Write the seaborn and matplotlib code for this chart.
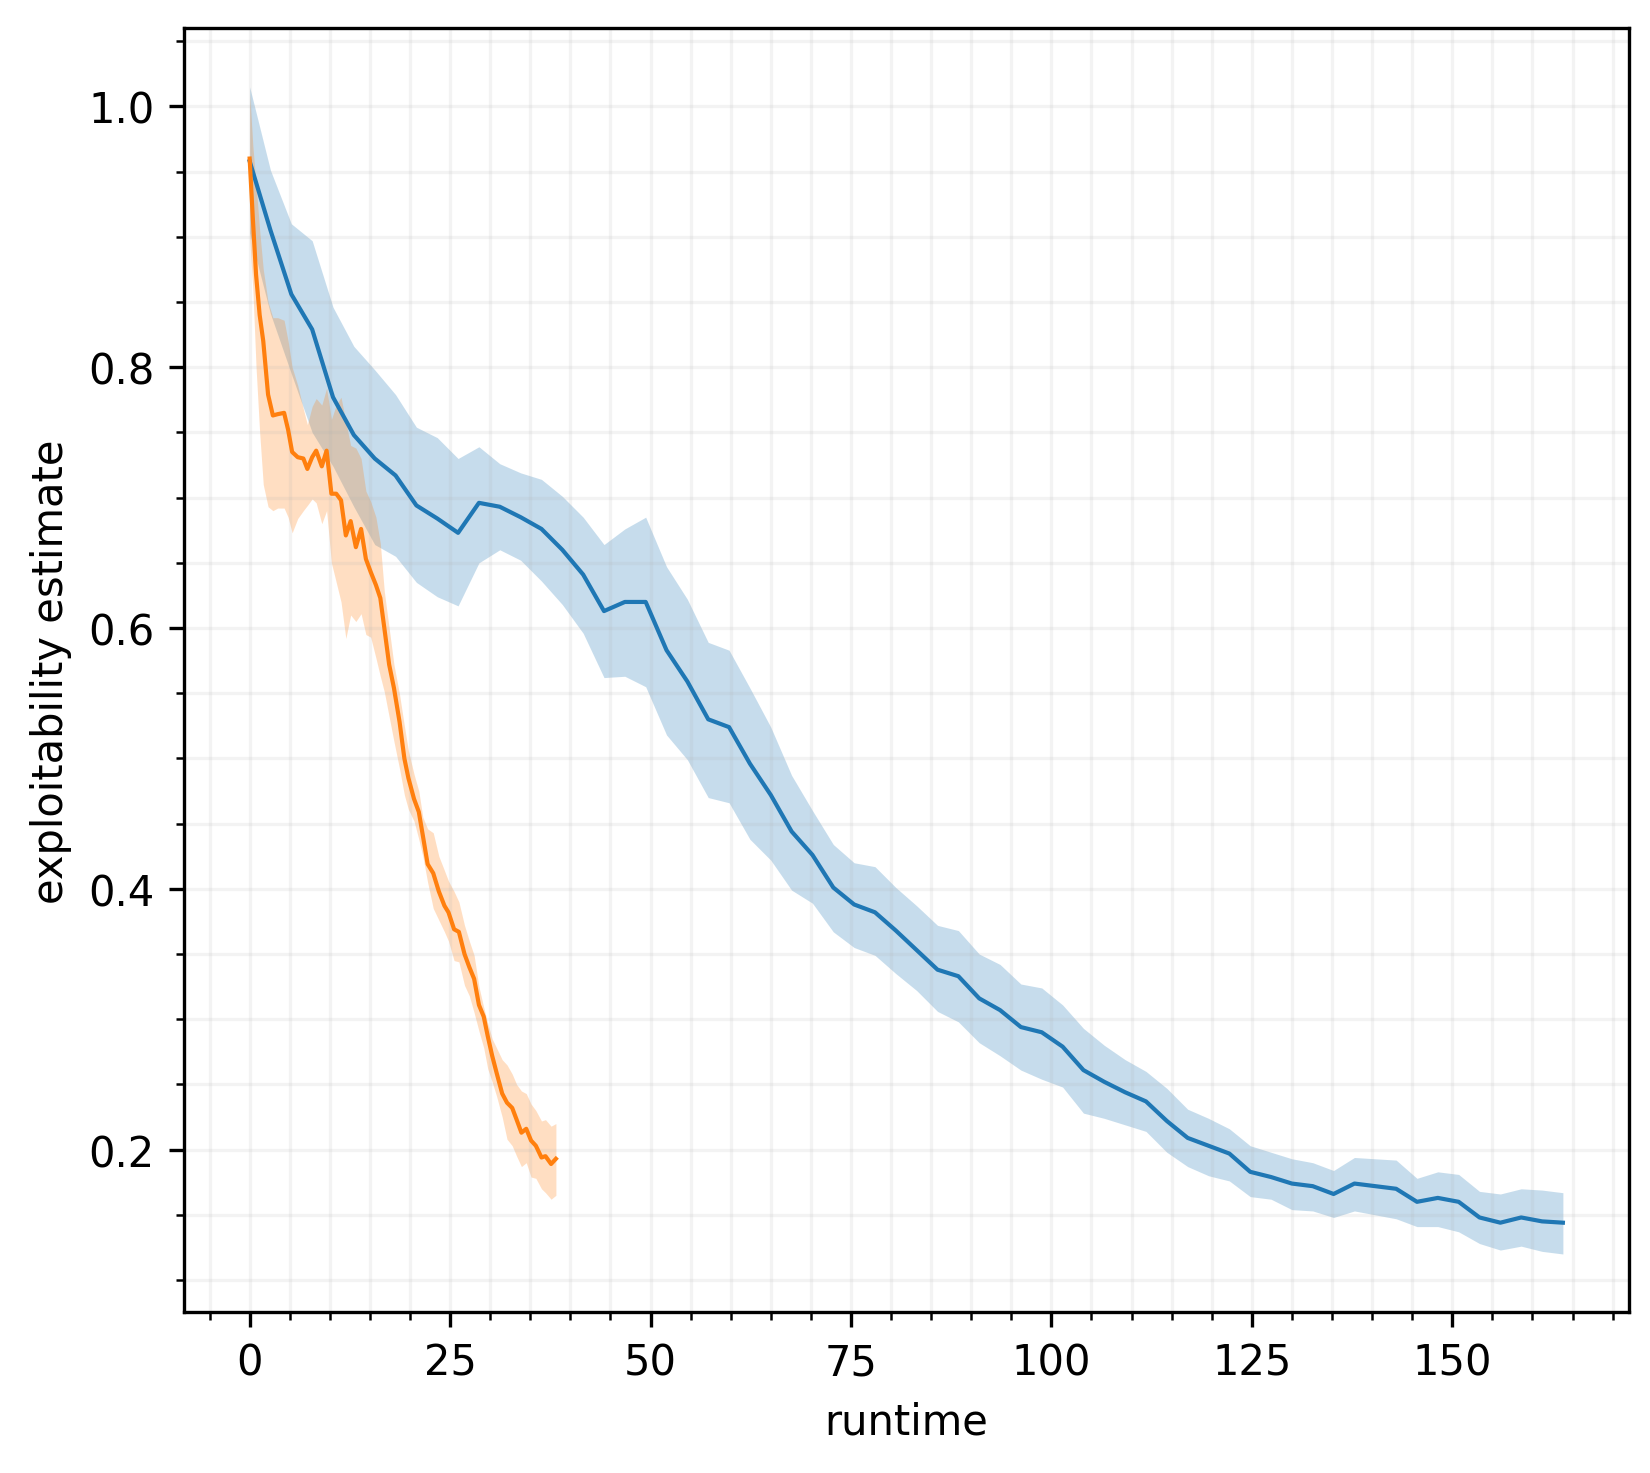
import numpy as np
import pandas as pd
import matplotlib
matplotlib.use("Agg")
import matplotlib.pyplot as plt
import seaborn as sns

# run 1 (blue) : runtime, mean exploitability, band
runtime_1 = [0.0, 2.6, 5.2, 7.8, 10.4, 13.0, 15.6, 18.2, 20.8, 23.4,
             26.0, 28.6, 31.2, 33.8, 36.4, 39.0, 41.6, 44.2, 46.8, 49.4,
             52.0, 54.6, 57.2, 59.8, 62.4, 65.0, 67.6, 70.2, 72.8, 75.4,
             78.0, 80.6, 83.2, 85.8, 88.4, 91.0, 93.6, 96.2, 98.8, 101.4,
             104.0, 106.6, 109.2, 111.8, 114.4, 117.0, 119.6, 122.2, 124.8, 127.4,
             130.0, 132.6, 135.2, 137.8, 140.4, 143.0, 145.6, 148.2, 150.8, 153.4,
             156.0, 158.6, 161.2, 163.8]
mean_1 = [0.958, 0.905, 0.856, 0.829, 0.777, 0.748, 0.730, 0.717, 0.694, 0.684,
          0.673, 0.696, 0.693, 0.685, 0.676, 0.660, 0.641, 0.613, 0.620, 0.620,
          0.583, 0.559, 0.530, 0.524, 0.496, 0.472, 0.444, 0.426, 0.401, 0.388,
          0.382, 0.368, 0.353, 0.338, 0.333, 0.316, 0.307, 0.294, 0.290, 0.279,
          0.261, 0.252, 0.244, 0.237, 0.222, 0.209, 0.203, 0.197, 0.183, 0.179,
          0.174, 0.172, 0.166, 0.174, 0.172, 0.170, 0.160, 0.163, 0.160, 0.148,
          0.144, 0.148, 0.145, 0.144]
upper_1 = [1.015, 0.951, 0.910, 0.897, 0.846, 0.816, 0.798, 0.779, 0.754, 0.746,
           0.730, 0.739, 0.726, 0.719, 0.714, 0.701, 0.685, 0.664, 0.676, 0.685,
           0.647, 0.622, 0.589, 0.583, 0.554, 0.524, 0.487, 0.460, 0.434, 0.420,
           0.417, 0.401, 0.387, 0.372, 0.368, 0.350, 0.342, 0.327, 0.324, 0.311,
           0.293, 0.280, 0.269, 0.260, 0.247, 0.231, 0.224, 0.216, 0.203, 0.198,
           0.193, 0.190, 0.184, 0.194, 0.193, 0.192, 0.178, 0.183, 0.181, 0.168,
           0.166, 0.170, 0.169, 0.167]
lower_1 = [0.903, 0.841, 0.795, 0.750, 0.724, 0.693, 0.664, 0.655, 0.635, 0.624,
           0.617, 0.650, 0.660, 0.652, 0.636, 0.618, 0.596, 0.562, 0.563, 0.555,
           0.518, 0.499, 0.470, 0.466, 0.438, 0.422, 0.399, 0.389, 0.367, 0.355,
           0.349, 0.335, 0.322, 0.306, 0.298, 0.282, 0.272, 0.261, 0.254, 0.248,
           0.228, 0.224, 0.219, 0.214, 0.198, 0.187, 0.180, 0.176, 0.164, 0.162,
           0.154, 0.153, 0.148, 0.153, 0.150, 0.147, 0.141, 0.141, 0.137, 0.128,
           0.123, 0.126, 0.122, 0.120]

# run 2 (orange)
runtime_2 = [0.0, 0.4, 0.8, 1.25, 1.7, 2.3, 2.9, 3.5, 4.3, 4.8,
             5.3, 6.0, 6.7, 7.2, 7.8, 8.3, 9.0, 9.6, 10.2, 10.8,
             11.4, 12.0, 12.6, 13.25, 13.9, 14.5, 15.1, 15.75, 16.3, 16.8,
             17.4, 18.0, 18.7, 19.3, 19.8, 20.5, 21.1, 21.6, 22.2, 22.9,
             23.6, 24.3, 24.8, 25.5, 26.1, 26.8, 27.4, 28.0, 28.6, 29.2,
             29.7, 30.25, 30.8, 31.5, 32.1, 32.75, 33.3, 33.9, 34.5, 35.1,
             35.7, 36.4, 36.9, 37.6, 38.2]
mean_2 = [0.960, 0.914, 0.871, 0.840, 0.820, 0.779, 0.763, 0.764, 0.765, 0.752,
          0.735, 0.731, 0.730, 0.722, 0.731, 0.736, 0.724, 0.736, 0.703, 0.703,
          0.698, 0.671, 0.682, 0.662, 0.676, 0.653, 0.643, 0.633, 0.623, 0.600,
          0.572, 0.554, 0.528, 0.500, 0.485, 0.469, 0.459, 0.441, 0.419, 0.412,
          0.398, 0.387, 0.382, 0.369, 0.367, 0.350, 0.340, 0.331, 0.311, 0.302,
          0.287, 0.272, 0.259, 0.243, 0.236, 0.232, 0.223, 0.213, 0.216, 0.207,
          0.203, 0.194, 0.195, 0.189, 0.193]
upper_2 = [1.010, 0.970, 0.940, 0.905, 0.875, 0.850, 0.838, 0.838, 0.836, 0.820,
           0.800, 0.786, 0.768, 0.756, 0.770, 0.776, 0.771, 0.784, 0.760, 0.771,
           0.777, 0.758, 0.740, 0.738, 0.730, 0.705, 0.697, 0.685, 0.665, 0.628,
           0.600, 0.572, 0.549, 0.525, 0.506, 0.488, 0.475, 0.455, 0.446, 0.443,
           0.425, 0.414, 0.406, 0.398, 0.390, 0.372, 0.360, 0.349, 0.325, 0.309,
           0.297, 0.285, 0.278, 0.269, 0.265, 0.258, 0.250, 0.245, 0.243, 0.235,
           0.230, 0.222, 0.223, 0.218, 0.220]
lower_2 = [0.900, 0.860, 0.800, 0.750, 0.710, 0.693, 0.690, 0.692, 0.692, 0.685,
           0.673, 0.684, 0.690, 0.694, 0.699, 0.696, 0.680, 0.690, 0.650, 0.635,
           0.620, 0.592, 0.610, 0.605, 0.611, 0.595, 0.593, 0.577, 0.563, 0.551,
           0.532, 0.513, 0.492, 0.472, 0.461, 0.452, 0.438, 0.425, 0.405, 0.385,
           0.376, 0.367, 0.360, 0.345, 0.344, 0.326, 0.318, 0.305, 0.291, 0.278,
           0.262, 0.252, 0.241, 0.225, 0.208, 0.203, 0.195, 0.187, 0.190, 0.179,
           0.178, 0.170, 0.167, 0.162, 0.165]

df = pd.concat([
    pd.DataFrame({"runtime": runtime_1, "exploitability": mean_1, "run": "run_1"}),
    pd.DataFrame({"runtime": runtime_2, "exploitability": mean_2, "run": "run_2"}),
], ignore_index=True)

colors = {"run_1": "#1f77b4", "run_2": "#ff7f0e"}

fig, ax = plt.subplots(figsize=(5.5, 4.9133), dpi=300)
fig.subplots_adjust(left=0.1115, right=0.987, top=0.980, bottom=0.109)

# bands first
ax.fill_between(runtime_1, lower_1, upper_1, color=colors["run_1"], alpha=0.25, linewidth=0, zorder=1)
ax.fill_between(runtime_2, lower_2, upper_2, color=colors["run_2"], alpha=0.25, linewidth=0, zorder=1)

sns.lineplot(data=df, x="runtime", y="exploitability", hue="run", palette=colors,
             linewidth=1.0, legend=False, ax=ax, zorder=2)

ax.set_xlabel("runtime")
ax.set_ylabel("exploitability estimate")
ax.set_yticks([0.2, 0.4, 0.6, 0.8, 1.0])
ax.minorticks_on()
ax.grid(which="both", alpha=0.15)

plt.savefig("out.png", dpi=300)
